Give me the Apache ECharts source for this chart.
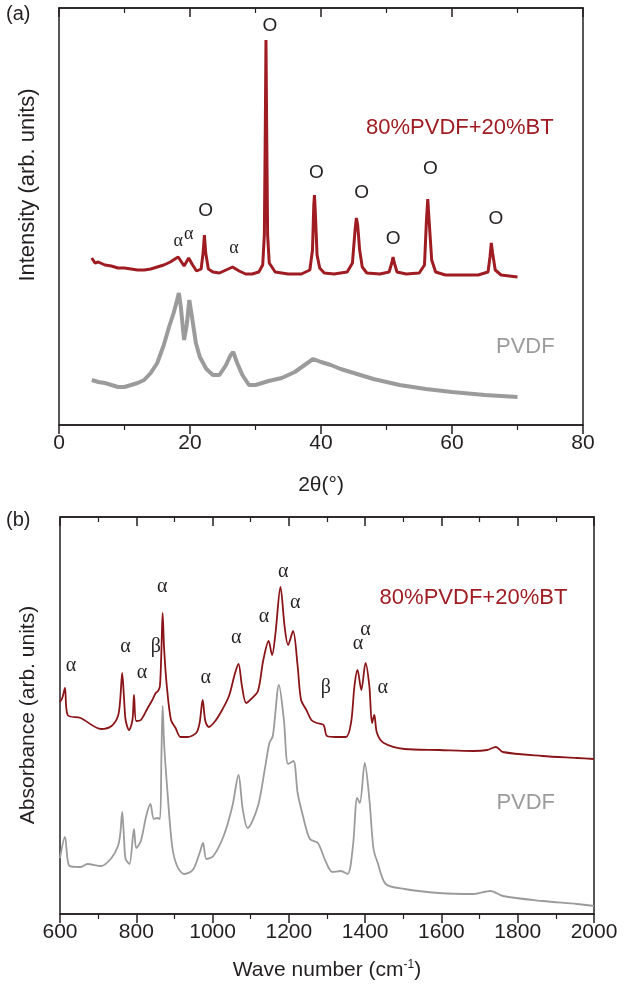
<!DOCTYPE html>
<html lang="en">
<head>
<meta charset="UTF-8">
<title>XRD / FTIR</title>
<style>
  * { margin: 0; padding: 0; }
  body { background: #fff; }
  #chart { width: 632px; height: 989px; }
</style>
</head>
<body>
<div id="chart"></div>
<script src="https://cdn.jsdelivr.net/npm/echarts@6/dist/echarts.min.js"></script>
<script>
// ---- (a) XRD, 2theta vs intensity (arb. units, y read as px above axis)
var xrdBtX = [5, 5.5, 6, 7, 8, 9, 10, 11, 12, 13, 14, 15, 16, 17, 17.7, 18.2, 18.7, 19.1, 19.8, 20.4, 21, 21.7, 22, 22.2, 22.4, 22.8, 23.5, 24.5, 25.5, 26.5, 27.5, 28.5, 29.5, 30.5, 31.1, 31.35, 31.5, 31.6, 31.7, 31.85, 32.1, 33, 35, 37, 38.3, 38.7, 38.9, 39, 39.15, 39.4, 39.8, 40.5, 42, 44, 44.8, 45.2, 45.4, 45.6, 45.9, 46.3, 47, 49, 50.4, 50.8, 51, 51.2, 51.6, 53, 55, 55.8, 56.1, 56.3, 56.5, 56.9, 57.5, 59, 62, 64, 65.5, 65.8, 66, 66.2, 66.6, 67.5, 70];
var xrdBtY = [167, 162, 163, 160, 159, 157, 157, 156, 155, 155, 156, 158, 160, 163, 166, 168, 163, 159, 167, 160, 154, 156, 172, 190, 172, 156, 153, 152, 155, 158, 154, 151, 151, 153, 160, 190, 300, 385, 300, 190, 162, 153, 151, 151, 155, 175, 220, 230, 210, 170, 157, 152, 151, 153, 162, 195, 207, 200, 175, 158, 152, 151, 153, 162, 168, 162, 153, 151, 152, 160, 205, 226, 205, 165, 153, 150, 150, 150, 153, 168, 182, 172, 155, 150, 148];
var xrdPvdfX = [5, 6, 7, 8, 9, 10, 11, 12, 13, 14, 15, 16, 16.8, 17.5, 18, 18.3, 18.6, 19.1, 19.5, 19.9, 20.3, 20.9, 21.5, 22.5, 23.5, 24.5, 25.5, 26.2, 26.6, 27.2, 28, 29, 30, 31, 32, 34, 36, 37.5, 38.8, 40, 41.5, 43, 45, 48, 52, 56, 60, 65, 70];
var xrdPvdfY = [45, 43, 42, 40, 38, 38, 40, 42, 45, 52, 62, 80, 98, 112, 124, 132, 118, 85, 100, 125, 108, 82, 68, 56, 50, 50, 60, 70, 73, 62, 50, 40, 40, 42, 44, 47, 53, 60, 66, 63, 60, 56, 52, 46, 40, 36, 33, 30, 28];

// peak marks for (a): [2theta, height, text]
var xrdMarks = [
  [32.2, 399, 'O'], [39.3, 252, 'O'], [46.2, 232, 'O'], [51.0, 186, 'O'],
  [56.7, 256, 'O'], [66.7, 206, 'O'], [22.4, 214, 'O']
];
var xrdAlpha = [[18.2, 184, 'α'], [19.8, 191, 'α'], [26.7, 177, 'α']];

// ---- (b) FTIR, wave number vs absorbance
var ftBtX = [600, 606, 613, 620, 654, 708, 735, 752, 758, 763, 768, 772, 781, 790, 794, 800, 812, 830, 842, 851, 857, 862, 866, 869, 873, 880, 891, 903, 916, 934, 957, 966, 974, 981, 990, 1007, 1025, 1043, 1059, 1068, 1077, 1088, 1101, 1119, 1133, 1147, 1156, 1165, 1178, 1189, 1198, 1211, 1223, 1232, 1246, 1259, 1273, 1291, 1300, 1323, 1350, 1363, 1372, 1380, 1390, 1401, 1411, 1418, 1424, 1431, 1449, 1503, 1594, 1684, 1720, 1743, 1761, 1865, 1955, 2000];
var ftBtY = [212, 216, 226, 199, 196, 185, 188, 198, 215, 241, 215, 194, 184, 194, 219, 193, 194, 206, 214, 221, 223, 228, 265, 301, 265, 228, 194, 186, 177, 177, 181, 191, 214, 193, 187, 193, 204, 218, 241, 250, 228, 211, 215, 223, 254, 273, 259, 281, 327, 287, 269, 283, 248, 214, 204, 194, 191, 189, 178, 177, 177, 191, 228, 244, 224, 251, 228, 191, 199, 181, 171, 165, 164, 163, 164, 167, 162, 158, 156, 155];
var ftPvdfX = [600, 613, 625, 654, 672, 708, 735, 752, 758, 763, 768, 772, 782, 794, 800, 812, 826, 837, 846, 855, 862, 866, 869, 873, 880, 894, 907, 925, 948, 966, 975, 984, 1002, 1029, 1052, 1068, 1079, 1092, 1119, 1137, 1149, 1158, 1174, 1187, 1198, 1212, 1223, 1237, 1255, 1276, 1296, 1314, 1336, 1354, 1368, 1379, 1386, 1399, 1411, 1422, 1433, 1454, 1503, 1594, 1684, 1729, 1761, 1865, 1955, 2000];
var ftPvdfY = [56, 77, 48, 47, 50, 48, 56, 68, 80, 102, 75, 55, 50, 85, 66, 73, 98, 110, 95, 96, 95, 160, 208, 170, 131, 68, 48, 40, 44, 61, 71, 55, 58, 78, 108, 139, 105, 86, 108, 145, 171, 178, 229, 194, 150, 153, 121, 98, 75, 71, 53, 42, 43, 40, 68, 116, 111, 151, 115, 65, 51, 30, 25, 21, 20, 23, 18, 13, 10, 8];

var ftAlpha = [
  [629, 248, 'α'], [772, 267, 'α'], [815, 241, 'α'], [868, 327, 'α'],
  [982, 236, 'α'], [1062, 276, 'α'], [1135, 297, 'α'], [1185, 342, 'α'],
  [1217, 311, 'α'], [1381, 270, 'α'], [1401, 284, 'α'], [1446, 226, 'α']
];
var ftBeta = [[851, 267, 'β'], [1297, 226, 'β']];

var RED = '#9e1c22';
var RED_DARK = '#8a1519';
var GREY = '#9b9b9b';
var INK = '#231f20';
var SANS = 'Liberation Sans, Arial, sans-serif';

function zip(xs, ys) {
  var out = [];
  for (var i = 0; i < xs.length; i++) out.push([xs[i], ys[i]]);
  return out;
}

function textSeries(data, xi, yi, size, family, color) {
  return {
    type: 'scatter', xAxisIndex: xi, yAxisIndex: yi,
    data: data, symbolSize: 1, silent: true,
    itemStyle: { color: 'transparent', opacity: 1 },
    emphasis: { disabled: true },
    label: {
      show: true, position: 'inside',
      formatter: function (p) { return p.data[2]; },
      color: color, fontSize: size, fontFamily: family,
      opacity: 1, textBorderWidth: 0
    },
    z: 5
  };
}

function bottomAxis(grid, min, max, step) {
  return {
    gridIndex: grid, type: 'value', min: min, max: max, interval: step,
    position: 'bottom',
    axisLine: { show: true, onZero: false, lineStyle: { color: INK, width: 1.5 } },
    axisTick: { show: true, inside: false, length: 9, lineStyle: { color: INK, width: 1.5 } },
    minorTick: { show: true, splitNumber: 2, length: 5, lineStyle: { color: INK, width: 1.2 } },
    axisLabel: {
      color: INK, fontSize: 21, fontFamily: SANS, margin: 8,
      formatter: function (v) { return String(v); }
    },
    splitLine: { show: false }
  };
}

function topAxis(grid, min, max, step) {
  return {
    gridIndex: grid, type: 'value', min: min, max: max, interval: step,
    position: 'top',
    axisLine: { show: true, onZero: false, lineStyle: { color: INK, width: 1.5 } },
    axisTick: { show: true, inside: true, length: 9, lineStyle: { color: INK, width: 1.5 } },
    minorTick: { show: true, splitNumber: 2, length: 5, lineStyle: { color: INK, width: 1.2 } },
    axisLabel: { show: false },
    splitLine: { show: false }
  };
}

var chart = echarts.init(document.getElementById('chart'), null, { renderer: 'canvas' });

var option = {
  animation: false,
  backgroundColor: '#fff',
  grid: [
    { left: 59, right: 49, top: 8, bottom: 564, show: true, borderColor: INK, borderWidth: 1.5 },
    { left: 60, right: 38, top: 517, bottom: 75, show: true, borderColor: INK, borderWidth: 1.5 }
  ],
  xAxis: [
    Object.assign(bottomAxis(0, 0, 80, 20), {
      name: '2θ(°)', nameLocation: 'middle', nameGap: 50,
      nameTextStyle: { color: INK, fontSize: 21, fontFamily: SANS }
    }),
    topAxis(0, 0, 80, 20),
    Object.assign(bottomAxis(1, 600, 2000, 200), {
      name: 'Wave number (cm{sup|-1})', nameLocation: 'middle', nameGap: 45,
      nameTextStyle: {
        color: INK, fontSize: 21, fontFamily: SANS,
        rich: { sup: { fontSize: 12, verticalAlign: 'top', padding: [0, 0, 10, 0], fontFamily: SANS, color: INK } }
      }
    }),
    topAxis(1, 600, 2000, 200)
  ],
  yAxis: [
    { gridIndex: 0, type: 'value', min: 0, max: 417, show: false },
    { gridIndex: 1, type: 'value', min: 0, max: 397, show: false }
  ],
  graphic: [
    { type: 'text', left: 6, top: 4, style: { text: '(a)', fontSize: 20, fontFamily: SANS, fill: INK } },
    { type: 'text', left: 6, top: 510, style: { text: '(b)', fontSize: 20, fontFamily: SANS, fill: INK } },
    { type: 'text', x: 28, y: 185, rotation: Math.PI / 2,
      style: { text: 'Intensity (arb. units)', fontSize: 22, fontFamily: SANS, fill: INK, align: 'center', verticalAlign: 'middle' } },
    { type: 'text', x: 28, y: 715, rotation: Math.PI / 2,
      style: { text: 'Absorbance (arb. units)', fontSize: 21, fontFamily: SANS, fill: INK, align: 'center', verticalAlign: 'middle' } }
  ],
  series: [
    {
      name: 'PVDF', type: 'line', xAxisIndex: 0, yAxisIndex: 0,
      data: zip(xrdPvdfX, xrdPvdfY), showSymbol: false,
      lineStyle: { color: GREY, width: 4 }
    },
    {
      name: '80%PVDF+20%BT', type: 'line', xAxisIndex: 0, yAxisIndex: 0,
      data: zip(xrdBtX, xrdBtY), showSymbol: false,
      lineStyle: { color: RED, width: 3 }
    },
    textSeries(xrdMarks, 0, 0, 19, SANS, INK),
    textSeries(xrdAlpha, 0, 0, 18, 'Liberation Serif, serif', INK),
    textSeries([[61.2, 297, '80%PVDF+20%BT']], 0, 0, 22, SANS, RED),
    textSeries([[71.2, 78, 'PVDF']], 0, 0, 22, SANS, GREY),
    {
      name: 'PVDF', type: 'line', xAxisIndex: 2, yAxisIndex: 1,
      data: zip(ftPvdfX, ftPvdfY), showSymbol: false, smooth: 0.3,
      lineStyle: { color: GREY, width: 1.8 }
    },
    {
      name: '80%PVDF+20%BT', type: 'line', xAxisIndex: 2, yAxisIndex: 1,
      data: zip(ftBtX, ftBtY), showSymbol: false, smooth: 0.3,
      lineStyle: { color: RED_DARK, width: 1.8 }
    },
    textSeries(ftAlpha, 2, 1, 20, 'Liberation Serif, serif', INK),
    textSeries(ftBeta, 2, 1, 20, 'Liberation Serif, serif', INK),
    textSeries([[1684, 316, '80%PVDF+20%BT']], 2, 1, 22, SANS, RED),
    textSeries([[1821, 111, 'PVDF']], 2, 1, 22, SANS, GREY)
  ]
};

chart.setOption(option);
</script>
</body>
</html>
